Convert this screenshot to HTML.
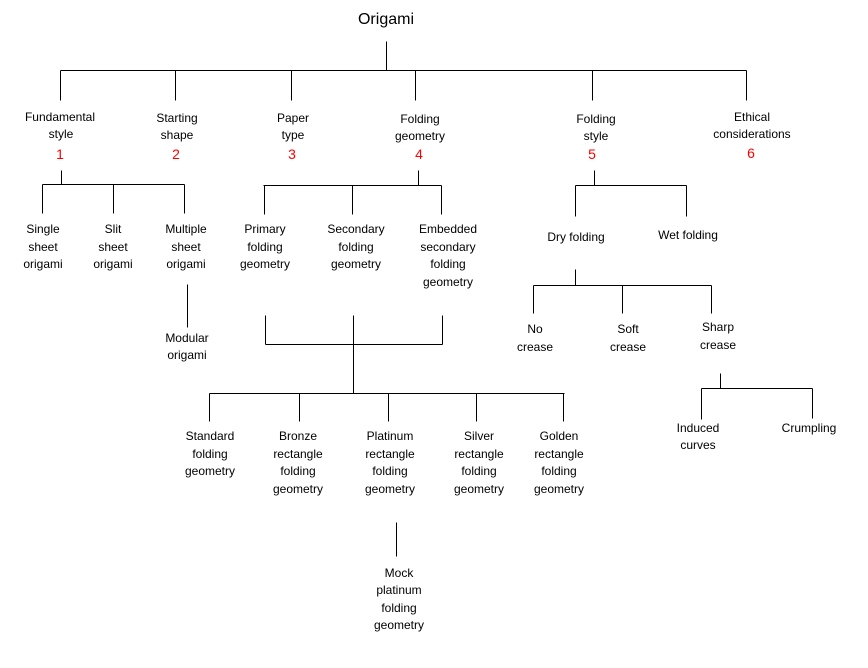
<!DOCTYPE html>
<html><head><meta charset="utf-8"><style>
html,body{margin:0;padding:0;background:#fff;}
svg{display:block;}
text{font-family:"Liberation Sans",sans-serif;font-size:12px;fill:#000;text-anchor:middle;}
.r{fill:#f00;font-size:14px;}
</style></head><body>
<svg width="868" height="668" viewBox="0 0 868 668" xmlns="http://www.w3.org/2000/svg">
<g stroke="#000" stroke-width="1" fill="none" shape-rendering="crispEdges" transform="translate(0.5,0.5)">
<path d="M386 41V70M60 70H746M60 70V100M175 70V100M291 70V100M415 70V100M592 70V100M746 70V100"/>
<path d="M61 170V184M42 184H184M42 184V213M113 184V213M184 184V213M187 284V327"/>
<path d="M418 170V185M263 185H441M264 185V214M352 185V214M441 185V214"/>
<path d="M265 315V344M442 315V344M265 344H442M353 315V393M209 393H564M209 393V421M299 393V421M388 393V421M476 393V421M563 393V421M396 522V556"/>
<path d="M594 170V185M575 185H686M575 185V216M686 185V216"/>
<path d="M575 269V285M533 285H711M533 285V313M622 285V313M711 285V313"/>
<path d="M720 373V388M701 388H812M701 388V419M812 388V418"/>
</g>
<text x="386" y="24" style="font-size:16px">Origami</text>
<text x="60" y="121">Fundamental</text><text x="61" y="138">style</text><text class="r" x="60" y="159">1</text>
<text x="177" y="122">Starting</text><text x="177" y="139">shape</text><text class="r" x="176" y="159">2</text>
<text x="293" y="122">Paper</text><text x="293" y="139">type</text><text class="r" x="292" y="159">3</text>
<text x="420" y="123">Folding</text><text x="420" y="140">geometry</text><text class="r" x="419" y="159">4</text>
<text x="596" y="123">Folding</text><text x="596" y="140">style</text><text class="r" x="592" y="159">5</text>
<text x="752" y="121">Ethical</text><text x="752" y="138">considerations</text><text class="r" x="751" y="158">6</text>
<text x="43" y="233">Single</text><text x="43" y="251">sheet</text><text x="43" y="268">origami</text>
<text x="113" y="233">Slit</text><text x="113" y="251">sheet</text><text x="113" y="268">origami</text>
<text x="186" y="233">Multiple</text><text x="186" y="251">sheet</text><text x="186" y="268">origami</text>
<text x="187" y="342">Modular</text><text x="187" y="359">origami</text>
<text x="265" y="233">Primary</text><text x="265" y="251">folding</text><text x="265" y="268">geometry</text>
<text x="356" y="233">Secondary</text><text x="356" y="251">folding</text><text x="356" y="268">geometry</text>
<text x="448" y="233">Embedded</text><text x="448" y="251">secondary</text><text x="448" y="268">folding</text><text x="448" y="286">geometry</text>
<text x="576" y="241">Dry folding</text><text x="688" y="239">Wet folding</text>
<text x="535" y="333">No</text><text x="535" y="351">crease</text>
<text x="628" y="333">Soft</text><text x="628" y="351">crease</text>
<text x="718" y="331">Sharp</text><text x="718" y="349">crease</text>
<text x="698" y="432">Induced</text><text x="698" y="449">curves</text>
<text x="809" y="432">Crumpling</text>
<text x="210" y="440">Standard</text><text x="210" y="458">folding</text><text x="210" y="475">geometry</text>
<text x="298" y="440">Bronze</text><text x="298" y="458">rectangle</text><text x="298" y="475">folding</text><text x="298" y="493">geometry</text>
<text x="390" y="440">Platinum</text><text x="390" y="458">rectangle</text><text x="390" y="475">folding</text><text x="390" y="493">geometry</text>
<text x="479" y="440">Silver</text><text x="479" y="458">rectangle</text><text x="479" y="475">folding</text><text x="479" y="493">geometry</text>
<text x="559" y="440">Golden</text><text x="559" y="458">rectangle</text><text x="559" y="475">folding</text><text x="559" y="493">geometry</text>
<text x="399" y="577">Mock</text><text x="399" y="594">platinum</text><text x="399" y="612">folding</text><text x="399" y="629">geometry</text>
</svg>
</body></html>
